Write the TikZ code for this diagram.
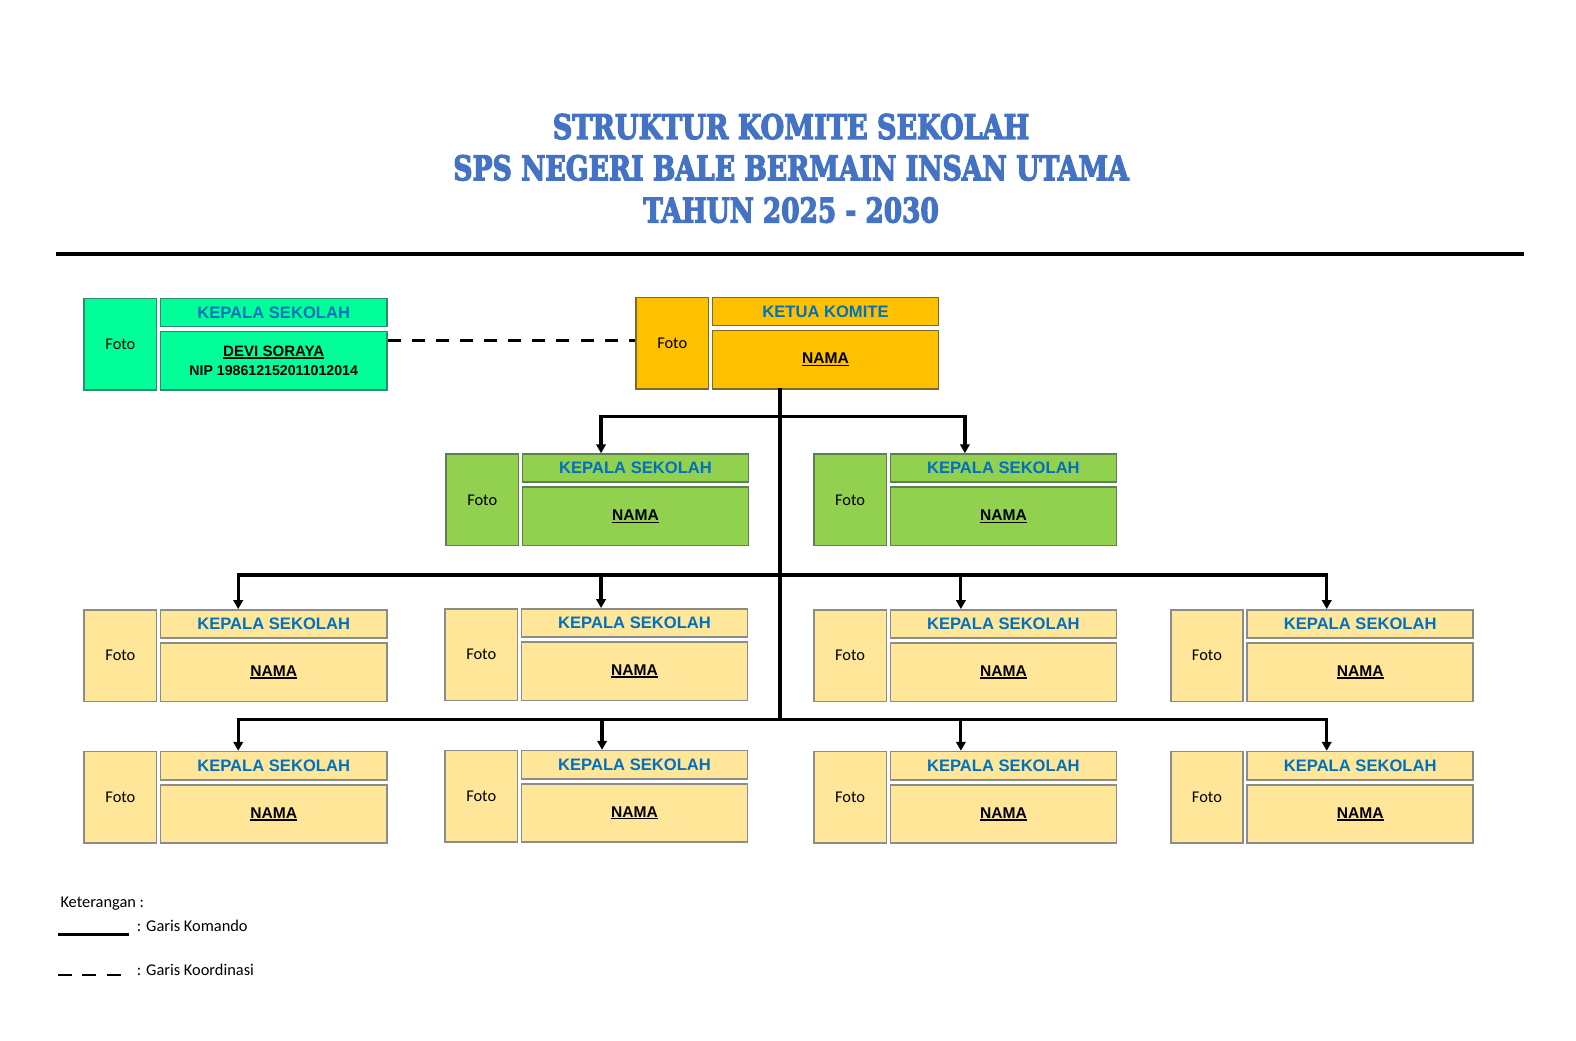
\documentclass[tikz,border=0pt]{standalone}
\usepackage{graphicx}
\usepackage{fontspec}
\setmainfont{Liberation Sans}
\newfontfamily\fotofont{Carlito}
\newfontfamily\headfont{DejaVu Serif}[BoldFeatures={FakeBold=4}]
\usetikzlibrary{arrows.meta}
\definecolor{titleblue}{HTML}{4472C4}
\definecolor{headblue}{HTML}{0070C0}
\definecolor{mint}{HTML}{00FF99}
\definecolor{mintborder}{HTML}{2E8B6E}
\definecolor{gold}{HTML}{FFC000}
\definecolor{goldborder}{HTML}{7F6A2E}
\definecolor{leaf}{HTML}{92D050}
\definecolor{leafborder}{HTML}{5E7F55}
\definecolor{cream}{HTML}{FFE699}
\definecolor{creamborder}{HTML}{8C8C8C}
\newcommand{\ulname}[1]{\setbox0\hbox{#1}\rlap{\rule[-2.4pt]{\wd0}{1.3pt}}\box0}
\tikzset{
  cell/.style={draw, line width=1.6pt, anchor=north west, inner sep=0pt},
  mintst/.style={fill=mint, draw=mintborder},
  goldst/.style={fill=gold, draw=goldborder},
  leafst/.style={fill=leaf, draw=leafborder},
  creamst/.style={fill=cream, draw=creamborder},
  cmd/.style={line width=3.2pt, line cap=rect},
  arr/.style={line width=3.2pt, -{Triangle[length=9pt,width=9.5pt]}},
  coordln/.style={line width=3.2pt, dash pattern=on 13pt off 11pt},
  legtext/.style={anchor=west, inner sep=0pt, font=\fotofont\fontsize{16.3}{19}\selectfont},
  bigtitle/.style={inner sep=0pt, text=titleblue}
}
\newcommand{\orgunit}[6]{%
  \node[cell,#4,minimum width=72pt,minimum height=91pt] (#1f) at (#2,#3) {\fotofont\fontsize{16.3}{19}\selectfont Foto};
  \node[cell,#4,minimum width=225pt,minimum height=28pt,font=\bfseries\fontsize{16.5}{19}\selectfont,text=headblue] (#1t) at (#2+76,#3) {#5};
  \node[cell,#4,minimum width=225pt,minimum height=58pt,align=center,font=\bfseries\fontsize{15.5}{19}\selectfont] (#1n) at (#2+76,#3+33) {#6};
}
\begin{document}
\begin{tikzpicture}[x=1pt,y=-1pt]
\useasboundingbox[fill=white] (0,0) rectangle (1568,1035);
% title
\node[bigtitle] (title1) at (787,126) {\resizebox{474pt}{25pt}{\headfont\bfseries STRUKTUR KOMITE SEKOLAH}};
\node[bigtitle] (title2) at (787,167) {\resizebox{672pt}{25pt}{\headfont\bfseries SPS NEGERI BALE BERMAIN INSAN UTAMA}};
\node[bigtitle] (title3) at (787,209) {\resizebox{294pt}{25pt}{\headfont\bfseries TAHUN 2025 - 2030}};
\draw[line width=4pt] (56,253) -- (1516,253);
% units
\orgunit{ks}{83}{296}{mintst}{KEPALA SEKOLAH}{\fontsize{15}{19}\selectfont\ulname{DEVI SORAYA}\\\fontsize{14.1}{19}\selectfont NIP 198612152011012014}
\orgunit{kt}{632}{295}{goldst}{KETUA KOMITE}{\ulname{NAMA}}
\orgunit{ra}{443}{451}{leafst}{KEPALA SEKOLAH}{\ulname{NAMA}}
\orgunit{rb}{809}{451}{leafst}{KEPALA SEKOLAH}{\ulname{NAMA}}
\orgunit{ca}{83}{606}{creamst}{KEPALA SEKOLAH}{\ulname{NAMA}}
\orgunit{cb}{442}{605}{creamst}{KEPALA SEKOLAH}{\ulname{NAMA}}
\orgunit{cc}{809}{606}{creamst}{KEPALA SEKOLAH}{\ulname{NAMA}}
\orgunit{cd}{1164}{606}{creamst}{KEPALA SEKOLAH}{\ulname{NAMA}}
\orgunit{da}{83}{747}{creamst}{KEPALA SEKOLAH}{\ulname{NAMA}}
\orgunit{db}{442}{746}{creamst}{KEPALA SEKOLAH}{\ulname{NAMA}}
\orgunit{dc}{809}{747}{creamst}{KEPALA SEKOLAH}{\ulname{NAMA}}
\orgunit{dd}{1164}{747}{creamst}{KEPALA SEKOLAH}{\ulname{NAMA}}
% coordination line
\draw[coordln] ([yshift=2.5pt]ktf.west -| ksn.east) -- ([yshift=2.5pt]ktf.west);
% command lines
\coordinate (trunk) at (776,716);
\draw[cmd] (ktn.south -| trunk) -- (trunk);
\coordinate (b1l) at (598,414);
\coordinate (b1r) at (960,414);
\draw[cmd] (b1l) -- (b1r);
\draw[arr] (b1l) -- (b1l |- rat.north);
\draw[arr] (b1r) -- (b1r |- rbt.north);
\coordinate (b2a) at (237,572);
\coordinate (b2b) at (598,572);
\coordinate (b2c) at (956,572);
\coordinate (b2d) at (1320,572);
\draw[cmd] (b2a) -- (b2d);
\draw[arr] (b2a) -- (b2a |- cat.north);
\draw[arr] (b2b) -- (b2b |- cbt.north);
\draw[arr] (b2c) -- (b2c |- cct.north);
\draw[arr] (b2d) -- (b2d |- cdt.north);
\coordinate (b3a) at (237,716);
\coordinate (b3b) at (599,716);
\coordinate (b3c) at (956,716);
\coordinate (b3d) at (1320,716);
\draw[cmd] (b3a) -- (b3d);
\draw[arr] (b3a) -- (b3a |- dat.north);
\draw[arr] (b3b) -- (b3b |- dbt.north);
\draw[arr] (b3c) -- (b3c |- dct.north);
\draw[arr] (b3d) -- (b3d |- ddt.north);
% legend
\node[legtext] (ket) at (60,899) {Keterangan :};
\node[legtext] (lkom) at (136,921) {: Garis Komando};
\node[legtext] (lkoor) at (136,965) {: Garis Koordinasi};
\coordinate (s1a) at (58,930);
\coordinate (s1b) at (128,930);
\draw[line width=2.8pt] (s1a) -- (s1b);
\coordinate (s2a) at (58,970);
\coordinate (s2b) at (120,970);
\draw[line width=2.8pt, dash pattern=on 14pt off 10pt] (s2a) -- (s2b);
\end{tikzpicture}
\end{document}
